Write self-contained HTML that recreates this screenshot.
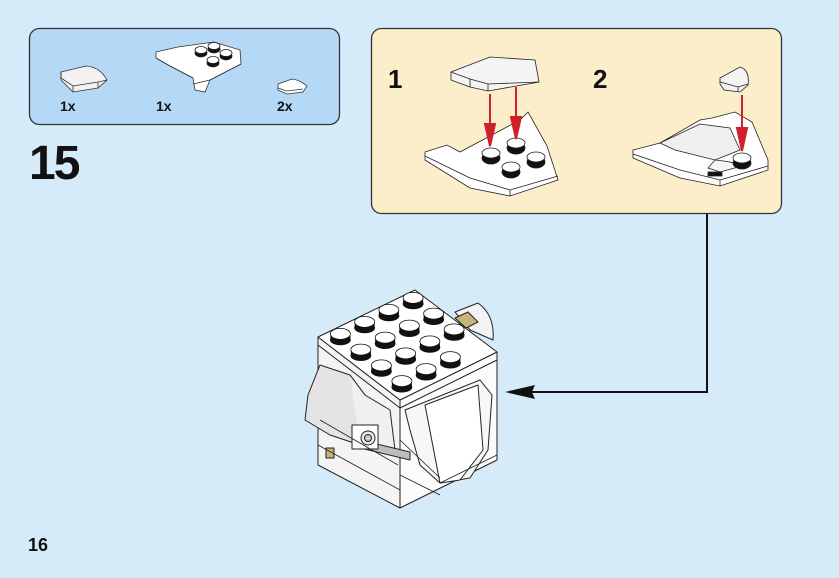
<!DOCTYPE html>
<html><head><meta charset="utf-8"><style>
html,body{margin:0;padding:0;background:#d5ebfa;}
svg{display:block}
text{font-family:"Liberation Sans",Arial,sans-serif;font-weight:bold;fill:#111}
</style></head><body>
<svg width="839" height="578" viewBox="0 0 839 578" xmlns="http://www.w3.org/2000/svg">
<rect x="0" y="0" width="839" height="578" fill="#d5ebfa"/>
<!-- parts box -->
<rect x="29.5" y="28.5" width="310" height="96" rx="10" fill="#b4d8f5" stroke="#333" stroke-width="1.3"/>
<!-- part 1 curved slope -->
<g stroke="#333" stroke-width="0.8" fill="#fff">
<path d="M61 72 L86 66 Q100 67 107 80 L98 88 L73 92 L61 80 Z" fill="#f2f2f2"/>
<path d="M61 72 L61 78 L73 86 L98 82 L107 80" fill="none"/>
<path d="M73 86 L73 92 M98 82 L98 88"/>
</g>
<!-- part 2 wedge plate -->
<g stroke="#333" stroke-width="0.8">
<path d="M156 52 L178 47 L214 42 L240 50 L241 64 L210 80 L205 92 L195 90 L193 78 L170 66 L156 58 Z" fill="#fff"/>
<path d="M156 58 L170 66 L193 78 M193 84 L210 80 L241 64" fill="none"/>
</g>
<g stroke="#222" stroke-width="0.8">
<ellipse cx="201" cy="53" rx="6" ry="4" fill="#111"/><ellipse cx="201" cy="50" rx="6" ry="3.5" fill="#fff"/>
<ellipse cx="214" cy="49" rx="6" ry="4" fill="#111"/><ellipse cx="214" cy="46" rx="6" ry="3.5" fill="#fff"/>
<ellipse cx="226" cy="56" rx="6" ry="4" fill="#111"/><ellipse cx="226" cy="53" rx="6" ry="3.5" fill="#fff"/>
<ellipse cx="213" cy="63" rx="6" ry="4" fill="#111"/><ellipse cx="213" cy="60" rx="6" ry="3.5" fill="#fff"/>
</g>
<!-- part 3 -->
<g stroke="#333" stroke-width="0.8">
<path d="M278 84 L292 79 Q300 80 307 86 L303 92 L287 94 L278 90 Z" fill="#fff"/>
<path d="M278 88 L287 91 L303 89" fill="none"/>
</g>
<text x="60" y="111" font-size="14">1x</text>
<text x="156" y="111" font-size="14">1x</text>
<text x="277" y="111" font-size="14">2x</text>
<text x="29" y="179" font-size="48" letter-spacing="-2">15</text>
<text x="28" y="551" font-size="18">16</text>

<!-- yellow box -->
<rect x="371.5" y="28.5" width="410" height="185" rx="10" fill="#fdeecb" stroke="#333" stroke-width="1.3"/>
<text x="388" y="88" font-size="26">1</text>
<text x="593" y="88" font-size="26">2</text>
<!-- step 1 -->
<g stroke="#222" stroke-width="0.8">
<path d="M451 72 L490 57 L535 60 L539 82 L488 91 L470 87 L451 80 Z" fill="#f4f4f4"/>
<path d="M451 72 L470 79 L488 84 L539 82 M488 84 L488 91 M470 79 L470 87" fill="none"/>
<path d="M425 152 L447 145 L460 152 L520 120 L528 112 L547 146 L558 180 L510 196 L470 188 L425 160 Z" fill="#fff"/>
<path d="M425 156 L470 178 L510 190 L558 176 M510 190 L510 196" fill="none"/>
</g>
<g stroke="#222" stroke-width="0.8">
<ellipse cx="491" cy="158" rx="9" ry="6" fill="#111"/><ellipse cx="491" cy="153" rx="9" ry="5" fill="#fff"/>
<ellipse cx="516" cy="148" rx="9" ry="6" fill="#111"/><ellipse cx="516" cy="143" rx="9" ry="5" fill="#fff"/>
<ellipse cx="536" cy="162" rx="9" ry="6" fill="#111"/><ellipse cx="536" cy="157" rx="9" ry="5" fill="#fff"/>
<ellipse cx="511" cy="172" rx="9" ry="6" fill="#111"/><ellipse cx="511" cy="167" rx="9" ry="5" fill="#fff"/>
</g>
<g stroke="#d0202a" stroke-width="2" fill="#d0202a">
<line x1="490" y1="94" x2="490" y2="135"/><path d="M485 124 L495 124 L490 146 Z"/>
<line x1="516" y1="87" x2="516" y2="128"/><path d="M511 117 L521 117 L516 139 Z"/>
</g>
<!-- step 2 -->
<g stroke="#222" stroke-width="0.8">
<path d="M633 150 L660 143 L700 120 L712 118 L735 112 L752 122 L768 160 L768 170 L720 186 L680 178 L633 158 Z" fill="#fff"/>
<path d="M633 154 L680 170 L720 180 L768 166 M720 180 L720 186" fill="none"/>
<path d="M660 143 L700 124 L730 128 L740 150 L715 160 L675 150 Z" fill="#efefef"/>
<path d="M715 160 Q735 162 742 166 L720 172 L708 168 Z" fill="#f6f6f6"/>
<rect x="708" y="172" width="14" height="4" fill="#111"/>
<ellipse cx="742" cy="163" rx="9" ry="6" fill="#111"/><ellipse cx="742" cy="158" rx="9" ry="5" fill="#fff"/>
<path d="M720 78 L740 67 Q750 70 748 85 L740 92 L724 90 L720 84 Z" fill="#f4f4f4"/>
<path d="M720 82 L738 87 L748 84 M738 87 L738 92" fill="none"/>
</g>
<g stroke="#d0202a" stroke-width="2" fill="#d0202a">
<line x1="742" y1="95" x2="742" y2="140"/><path d="M737 128 L747 128 L742 151 Z"/>
</g>

<!-- connector -->
<polyline points="707,214 707,392 530,392" fill="none" stroke="#111" stroke-width="2"/>
<path d="M505 392 L535 385 L532 392 L535 399 Z" fill="#111"/>

<!-- main model -->
<g stroke="#222" stroke-width="1" stroke-linejoin="round">
<!-- right back bump -->
<path d="M455 312 L478 303 Q495 315 493 340 L470 330 Z" fill="#f3f3f3"/>
<!-- left face -->
<path d="M318 337 L400 400 L400 508 L318 465 Z" fill="#f4f4f4"/>
<!-- front face -->
<path d="M400 400 L497 352 L497 460 L400 508 Z" fill="#fbfbfb"/>
<!-- top face -->
<path d="M318 337 L415 290 L497 352 L400 400 Z" fill="#fff"/>
<path d="M318 337 L318 345 L400 408 L497 360 L497 352" fill="none"/>
<!-- left slope panel -->
<path d="M320 365 L350 375 L365 395 L360 445 L330 435 L305 420 L308 395 Z" fill="#e4e4e4"/>
<path d="M350 375 L365 395 L390 410 L395 450 L360 445" fill="#f0f0f0"/>
<!-- gray band and round -->
<path d="M360 440 L410 452 L410 460 L360 448 Z" fill="#bdbdbd"/>
<rect x="352" y="425" width="26" height="24" fill="#fff"/>
<circle cx="368" cy="438" r="7" fill="#eee"/><circle cx="368" cy="438" r="3.5" fill="#ccc"/>
<rect x="326" y="448" width="8" height="10" fill="#c8b47a"/>
<!-- front slope panel -->
<path d="M405 410 L480 380 L492 395 L488 450 L470 478 L440 483 L420 465 L410 430 Z" fill="#f7f7f7"/>
<path d="M425 405 L478 385 L483 450 L460 480 L440 483 Z" fill="#fff"/>
<path d="M400 440 L440 478 M400 475 L440 495 M440 483 L497 455 M320 420 L398 465 M318 445 L400 490" fill="none" stroke-width="0.8"/>
<!-- tan tile -->
<path d="M455 318 L468 312 L478 322 L466 328 Z" fill="#c8b47a"/>
</g>
<g id="studs" stroke="#111" stroke-width="0.8"></g>
</svg>
<script>
var g=document.getElementById('studs'),F=[400,400],A=[-82,-63],B=[97,-48],vs=[.125,.375,.625,.875],s='';
var list=[];
for(var i=3;i>=0;i--)for(var j=3;j>=0;j--){list.push([vs[i],vs[j]]);}
list.sort(function(p,q){var yp=F[1]+p[0]*A[1]+p[1]*B[1],yq=F[1]+q[0]*A[1]+q[1]*B[1];return yp-yq;});
list.forEach(function(p){if(p[0]==.125&&p[1]==.875)return;
var x=F[0]+p[0]*A[0]+p[1]*B[0],y=F[1]+p[0]*A[1]+p[1]*B[1]-4;
s+='<rect x="'+(x-10)+'" y="'+(y-1)+'" width="20" height="6" fill="#111" stroke="none"/><ellipse cx="'+x+'" cy="'+(y+5)+'" rx="10" ry="5" fill="#111"/><ellipse cx="'+x+'" cy="'+(y-1)+'" rx="10" ry="5.5" fill="#fff"/>';});
g.innerHTML=s;
</script>
</body></html>
